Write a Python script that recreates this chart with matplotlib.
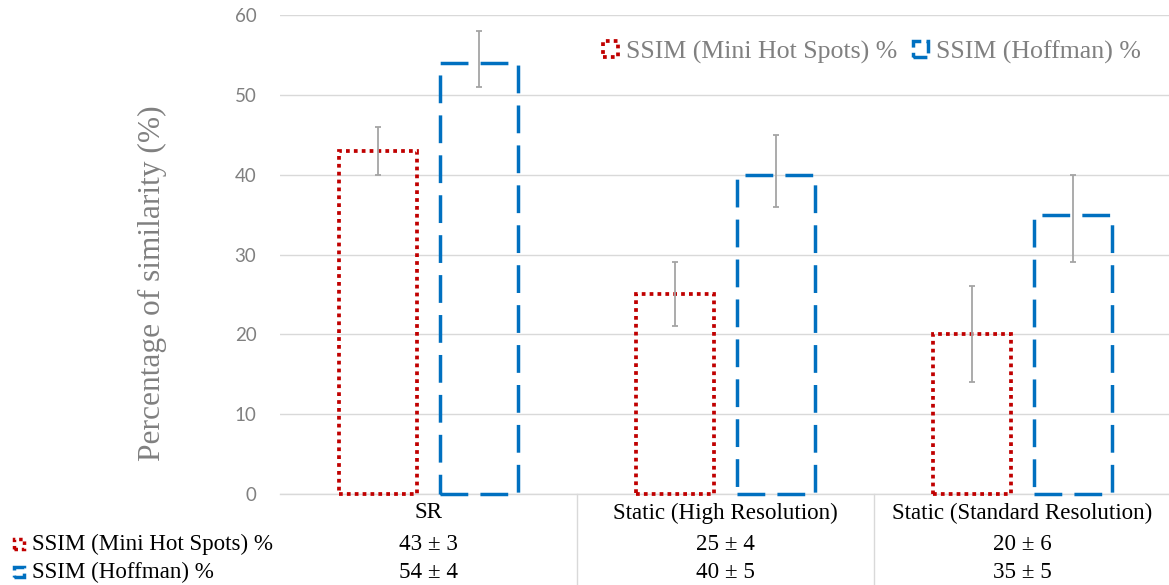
import numpy as np
import matplotlib
matplotlib.use("Agg")
import matplotlib.pyplot as plt
import matplotlib.transforms as mtransforms
from matplotlib.patches import Rectangle
from matplotlib.lines import Line2D

categories = ["SR", "Static (High Resolution)", "Static (Standard Resolution)"]
series_names = ["SSIM (Mini Hot Spots) %", "SSIM (Hoffman) %"]

mini_hot_spots = [43, 25, 20]
hoffman = [54, 40, 35]
mini_sd = [3, 4, 6]
hoffman_sd = [4, 5, 5]

# error bar extents as drawn in the chart (below, above)
mini_err_low = [3, 4, 6]
mini_err_high = [3, 4, 6]
hoffman_err_low = [3, 4, 6]
hoffman_err_high = [4, 5, 5]

RED = "#C00000"
BLUE = "#0070C0"
GREY = "#808080"
GRID = "#D9D9D9"
red_ls = (0, (1, 1.1))
blue_ls = (0, (8, 3.5))
SERIF = "Liberation Serif"

W, H = 1169, 585
fig = plt.figure(figsize=(W / 100, H / 100), dpi=100)
ax = fig.add_axes([280 / W, 1 - 494 / H, 891 / W, 479 / H])

x = np.arange(len(categories))
off = 0.17
bw = 0.26

ax.bar(x - off, mini_hot_spots, width=bw, fill=False, edgecolor=RED,
       linestyle=red_ls, linewidth=2.7, zorder=3, clip_on=False)
ax.bar(x + off, hoffman, width=bw, fill=False, edgecolor=BLUE,
       linestyle=blue_ls, linewidth=2.5, zorder=3, clip_on=False)

ax.errorbar(x - off, mini_hot_spots, yerr=[mini_err_low, mini_err_high],
            fmt="none", ecolor="#A5A5A5", elinewidth=1.3, capsize=2.5,
            capthick=1.3, zorder=4)
ax.errorbar(x + off, hoffman, yerr=[hoffman_err_low, hoffman_err_high],
            fmt="none", ecolor="#A5A5A5", elinewidth=1.3, capsize=2.5,
            capthick=1.3, zorder=4)

ax.set_xlim(-0.5, len(categories) - 0.5)
ax.set_ylim(0, 60)
ax.set_yticks(range(0, 61, 10))
ax.set_xticks([])
ax.yaxis.grid(True, color=GRID, linewidth=1)
ax.set_axisbelow(True)
for s in ["top", "right", "left"]:
    ax.spines[s].set_visible(False)
ax.spines["bottom"].set_color(GRID)
ax.spines["bottom"].set_linewidth(1)
ax.tick_params(axis="y", length=0, pad=17, labelcolor=GREY, labelsize=13.5)
for lab in ax.get_yticklabels():
    lab.set_family("Lato")

# legend
handles = [Rectangle((0, 0), 1, 1, fill=False, ec=RED, ls=red_ls, lw=2.7),
           Rectangle((0, 0), 1, 1, fill=False, ec=BLUE, ls=(0, (4, 1.5)), lw=2.5)]
leg = ax.legend(handles, series_names, ncol=2, loc="center right",
                bbox_to_anchor=(1154 / W, 1 - 52 / H), bbox_transform=fig.transFigure,
                frameon=False, prop={"family": SERIF, "size": 18.6}, labelcolor=GREY,
                handlelength=0.6, handleheight=0.6, handletextpad=0.3,
                columnspacing=0.6, borderpad=0)

fig.text(152 / W, 1 - 283 / H, "Percentage of similarity (%)", rotation=90,
         ha="center", va="center", fontsize=22.6, color=GREY, family=SERIF)

# data table under the axis
blend = mtransforms.blended_transform_factory(ax.transData, fig.transFigure)
row_y = [1 - 513 / H, 1 - 544 / H, 1 - 572 / H]
for i, cat in enumerate(categories):
    ax.text(i, row_y[0], cat, transform=blend, ha="center", va="center",
            fontsize=16.6, family=SERIF, color="black")
    ax.text(i, row_y[1], f"{mini_hot_spots[i]} \u00b1 {mini_sd[i]}", transform=blend,
            ha="center", va="center", fontsize=16.6, family=SERIF, color="black")
    ax.text(i, row_y[2], f"{hoffman[i]} \u00b1 {hoffman_sd[i]}", transform=blend,
            ha="center", va="center", fontsize=16.6, family=SERIF, color="black")

for xb in x[:-1] + 0.5:
    fig.add_artist(Line2D([xb, xb], [1 - 494 / H, 0], transform=blend,
                          color=GRID, linewidth=1))

for lab, y, col, ls in zip(series_names, row_y[1:], [RED, BLUE], [red_ls, (0, (4, 1.5))]):
    fig.add_artist(Rectangle((14 / W, y - 5 / H), 10 / W, 10 / H, fill=False, ec=col,
                             ls=ls, lw=2.5, transform=fig.transFigure))
    fig.text(32 / W, y, lab, ha="left", va="center", fontsize=16.6,
             family=SERIF, color="black")

fig.savefig("out.png", dpi=100)
